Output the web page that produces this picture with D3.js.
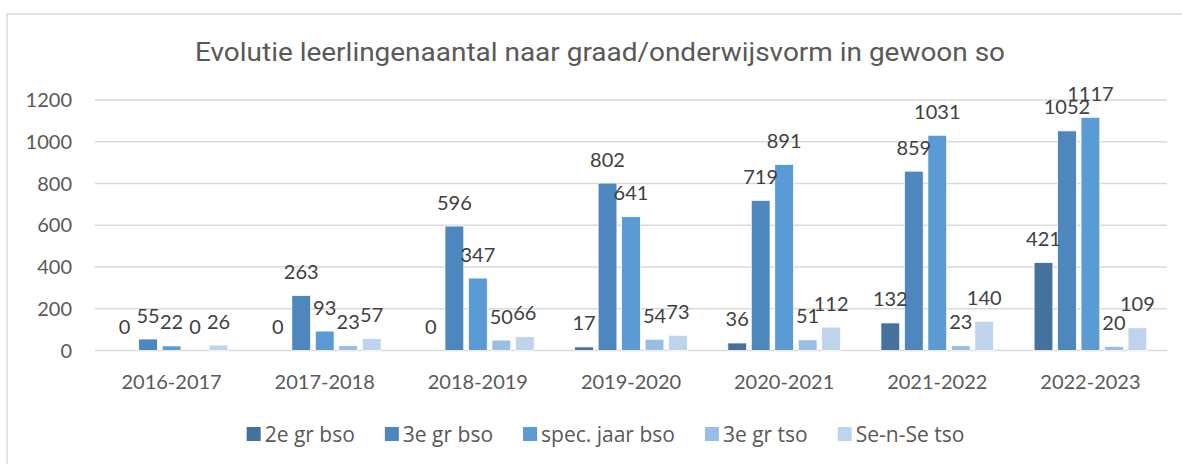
<!DOCTYPE html>
<html>
<head>
<meta charset="utf-8">
<script src="https://cdn.jsdelivr.net/npm/d3@7"></script>
<style>
  body { margin: 0; background: #fff; }
  svg { display: block; }
</style>
</head>
<body>
<svg id="chart" width="1182" height="464"></svg>
<script>
// data
var years = ["2016-2017", "2017-2018", "2018-2019", "2019-2020", "2020-2021", "2021-2022", "2022-2023"];
var seriesNames = ["2e gr bso", "3e gr bso", "spec. jaar bso", "3e gr tso", "Se-n-Se tso"];
var tweedeGrBso = [0, 0, 0, 17, 36, 132, 421];
var derdeGrBso = [55, 263, 596, 802, 719, 859, 1052];
var specJaarBso = [22, 93, 347, 641, 891, 1031, 1117];
var derdeGrTso = [0, 23, 50, 54, 51, 23, 20];
var seNSeTso = [26, 57, 66, 73, 112, 140, 109];
var yTicks = [0, 200, 400, 600, 800, 1000, 1200];

var seriesValues = [tweedeGrBso, derdeGrBso, specJaarBso, derdeGrTso, seNSeTso];
var colors = ["#44729d", "#4e87bd", "#5b9bd5", "#9abde3", "#bed4ed"];

var svg = d3.select("#chart");
var labelFont = "Lato, 'Open Sans', sans-serif";

// outer border
svg.append("rect")
  .attr("x", 7).attr("y", 14)
  .attr("width", 1180).attr("height", 460)
  .attr("fill", "none")
  .attr("stroke", "#d9d9d9")
  .attr("stroke-width", 1.5);

// title
svg.append("text")
  .attr("x", 600).attr("y", 61)
  .attr("text-anchor", "middle")
  .attr("font-family", "Roboto, sans-serif")
  .attr("font-size", 26)
  .attr("fill", "#595959")
  .attr("textLength", 810)
  .attr("lengthAdjust", "spacingAndGlyphs")
  .text("Evolutie leerlingenaantal naar graad/onderwijsvorm in gewoon so");

var x = d3.scaleBand().domain(years).range([95, 1167]).padding(0);
var xs = d3.scaleBand().domain(d3.range(seriesNames.length)).range([-56.35, 56.35]).paddingInner(0.2);
var y = d3.scaleLinear().domain([0, 1200]).range([350.5, 100]);

// gridlines
svg.append("g").selectAll("line")
  .data(yTicks)
  .join("line")
  .attr("x1", 95).attr("x2", 1167)
  .attr("y1", d => y(d)).attr("y2", d => y(d))
  .attr("stroke", "#d9d9d9")
  .attr("stroke-width", 1.5);

// y tick labels
svg.append("g").selectAll("text")
  .data(yTicks)
  .join("text")
  .attr("x", 72).attr("y", d => y(d))
  .attr("dy", "0.36em")
  .attr("text-anchor", "end")
  .attr("font-family", labelFont)
  .attr("font-size", 20)
  .attr("fill", "#595959")
  .text(d => d);

// x labels
svg.append("g").selectAll("text")
  .data(years)
  .join("text")
  .attr("x", d => x(d) + x.bandwidth() / 2)
  .attr("y", 389)
  .attr("text-anchor", "middle")
  .attr("font-family", labelFont)
  .attr("font-size", 20)
  .attr("fill", "#595959")
  .text(d => d);

var cells = [];
seriesValues.forEach(function(vals, si) {
  vals.forEach(function(v, yi) {
    cells.push({ s: si, year: years[yi], value: v });
  });
});

// bars
svg.append("g").selectAll("rect")
  .data(cells)
  .join("rect")
  .attr("x", d => x(d.year) + x.bandwidth() / 2 + xs(d.s))
  .attr("y", d => y(d.value))
  .attr("width", xs.bandwidth())
  .attr("height", d => y(0) - y(d.value))
  .attr("fill", d => colors[d.s])
  .attr("stroke", "#fff")
  .attr("stroke-width", 0.75);

// data labels
svg.append("g").selectAll("text")
  .data(cells)
  .join("text")
  .attr("x", d => x(d.year) + x.bandwidth() / 2 + xs(d.s) + xs.bandwidth() / 2)
  .attr("y", d => y(d.value) - 16.5)
  .attr("text-anchor", "middle")
  .attr("font-family", labelFont)
  .attr("font-size", 20)
  .attr("fill", "#404040")
  .text(d => d.value);

// legend
var legend = svg.append("g");
var items = legend.selectAll("g")
  .data(seriesNames)
  .join("g");
items.append("rect")
  .attr("width", 14).attr("height", 14)
  .attr("y", 427)
  .attr("fill", (d, i) => colors[i]);
items.append("text")
  .attr("x", 18).attr("y", 434)
  .attr("dy", "0.36em")
  .attr("font-family", "'Open Sans', sans-serif")
  .attr("font-size", 21)
  .attr("fill", "#595959")
  .text(d => d);

var pos = 0;
var widths = [];
items.each(function() {
  widths.push(d3.select(this).select("text").node().getComputedTextLength());
});
var total = d3.sum(widths) + widths.length * 18 + (widths.length - 1) * 30;
var startX = 605.5 - total / 2;
items.attr("transform", function(d, i) {
  var t = "translate(" + (startX + pos) + ",0)";
  pos += 18 + widths[i] + 30;
  return t;
});
</script>
</body>
</html>
